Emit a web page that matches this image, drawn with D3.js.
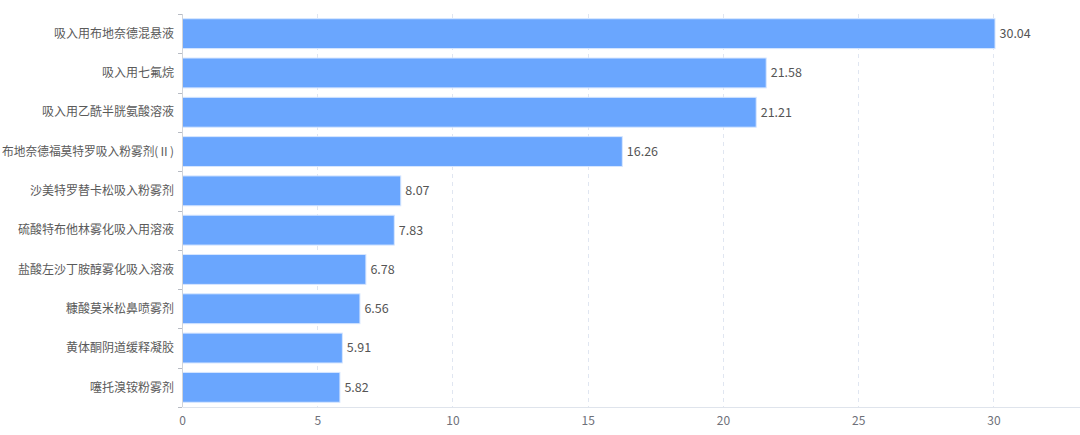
<!DOCTYPE html>
<html><head><meta charset="utf-8">
<script src="https://cdn.jsdelivr.net/npm/d3@7/dist/d3.min.js"></script>
<style>body{margin:0;background:#fff}svg{display:block}text{font-family:"Noto Sans CJK SC","Microsoft YaHei",sans-serif}</style>
</head><body><svg id="c" width="1080" height="435"></svg>
<script>
const categories = ["吸入用布地奈德混悬液","吸入用七氟烷","吸入用乙酰半胱氨酸溶液","布地奈德福莫特罗吸入粉雾剂(Ⅱ)","沙美特罗替卡松吸入粉雾剂","硫酸特布他林雾化吸入用溶液","盐酸左沙丁胺醇雾化吸入溶液","糠酸莫米松鼻喷雾剂","黄体酮阴道缓释凝胶","噻托溴铵粉雾剂"];
const values = [30.04,21.58,21.21,16.26,8.07,7.83,6.78,6.56,5.91,5.82];
const xTicks = [0,5,10,15,20,25,30];
const xMax = 33.2;

(function(){
const svg = d3.select("#c");
const mLeft = 182, mRight = 1080, mTop = 14, mBottom = 407;
const x = d3.scaleLinear().domain([0, xMax]).range([mLeft, mRight]);
const y = d3.scaleBand().domain(categories).range([mTop, mBottom]).paddingInner(0.24).paddingOuter(0.12);

// grid
svg.append("g").selectAll("line").data(xTicks.filter(d=>d>0)).join("line")
  .attr("x1", d=>Math.round(x(d))+0.5).attr("x2", d=>Math.round(x(d))+0.5).attr("y1", mTop).attr("y2", mBottom)
  .attr("stroke", "#e0e6f1").attr("stroke-dasharray", "4,4");

// bars
svg.append("g").selectAll("rect").data(values).join("rect")
  .attr("x", x(0)+0.5).attr("y", (d,i)=>y(categories[i]))
  .attr("width", d=>x(d)-x(0)).attr("height", y.bandwidth())
  .attr("fill", "#6aa6fe").attr("stroke", "#d6e6ff").attr("stroke-width", 1);

// value labels
svg.append("g").selectAll("text").data(values).join("text")
  .attr("x", d=>x(d)+5).attr("y", (d,i)=>y(categories[i])+y.bandwidth()/2)
  .attr("dy", "0.35em").attr("font-size", 12.5).attr("fill", "#555")
  .text(d=>d.toFixed(2));

// x axis
const xa = svg.append("g").attr("transform", `translate(0,${mBottom})`)
  .call(d3.axisBottom(x).tickValues(xTicks).tickSize(0).tickPadding(9));
xa.select(".domain").attr("stroke", "#dfe4ec");
xa.selectAll("text").attr("font-size", 12).attr("fill", "#6e7079");

// y axis
const bandEdges = d3.range(categories.length+1).map(i => mTop + i*(mBottom-mTop)/categories.length);
svg.append("line").attr("x1", mLeft+0.5).attr("x2", mLeft+0.5).attr("y1", mTop).attr("y2", mBottom).attr("stroke", "#d0d4da");
svg.append("g").selectAll("line").data(bandEdges).join("line")
  .attr("x1", mLeft-4).attr("x2", mLeft).attr("y1", d=>Math.round(d)+0.5).attr("y2", d=>Math.round(d)+0.5)
  .attr("stroke", "#b8bcc4");
svg.append("g").selectAll("text").data(categories).join("text")
  .attr("x", mLeft-8).attr("y", d=>y(d)+y.bandwidth()/2).attr("dy","0.35em")
  .attr("text-anchor","end").attr("font-size", 12).attr("fill", "#5a5a5a").text(d=>d)
  .each(function(){
    const w = this.getComputedTextLength();
    const maxW = mLeft - 8 - 2;
    if (w > maxW) d3.select(this).attr("textLength", maxW).attr("lengthAdjust", "spacingAndGlyphs");
  });
})();
</script></body></html>
